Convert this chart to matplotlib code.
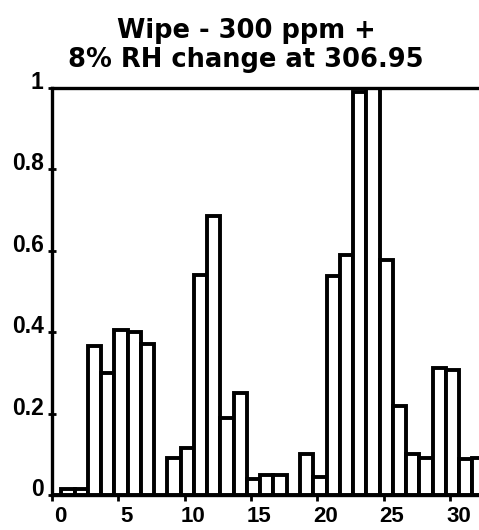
import numpy as np
import matplotlib
matplotlib.use("Agg")
import matplotlib.pyplot as plt
from matplotlib.transforms import ScaledTranslation

# Data
bar_index = list(range(0, 33))
values = [0.0, 0.015, 0.015, 0.365, 0.30, 0.405, 0.40, 0.372,
          0.0, 0.09, 0.116, 0.54, 0.685, 0.19, 0.25, 0.04, 0.05, 0.05,
          0.0, 0.10, 0.045, 0.537, 0.59, 0.99, 1.0, 0.578, 0.218, 0.10,
          0.09, 0.312, 0.308, 0.088, 0.09]
x_ticks = [0, 5, 10, 15, 20, 25, 30]
y_ticks = [0, 0.2, 0.4, 0.6, 0.8, 1.0]
y_ticklabels = ["0", "0.2", "0.4", "0.6", "0.8", "1"]
title = "Wipe - 300 ppm +\n8% RH change at 306.95"

plt.rcParams["font.family"] = ["Liberation Sans", "DejaVu Sans"]
plt.rcParams["font.weight"] = "bold"

fig = plt.figure(figsize=(4.79, 5.30), dpi=100)
ax = fig.add_axes([0.1086, 0.066, 0.8914, 0.768])

xpos = np.array(bar_index) + 0.2
ax.bar(xpos, values, width=1.0, color="white", edgecolor="black",
       linewidth=2.8, zorder=2)

ax.set_xlim(0, 32.2)
ax.set_ylim(0, 1.0)
ax.set_xticks(x_ticks)
ax.set_xticklabels([str(t) for t in x_ticks], fontsize=16, fontweight="bold")
ax.set_yticks(y_ticks)
ax.set_yticklabels(y_ticklabels, fontsize=16.5, fontweight="bold")

for s in ["left", "bottom", "top"]:
    ax.spines[s].set_linewidth(2.4)
    ax.spines[s].set_zorder(3)
ax.spines["right"].set_visible(False)

ax.tick_params(axis="x", direction="out", length=4, width=2, pad=4)
ax.tick_params(axis="y", direction="inout", length=6, width=2, pad=3)

off_x = ScaledTranslation(0.085, 0, fig.dpi_scale_trans)
for lab in ax.get_xticklabels():
    lab.set_transform(lab.get_transform() + off_x)
off_y = ScaledTranslation(0, 0.08, fig.dpi_scale_trans)
for lab in ax.get_yticklabels():
    lab.set_transform(lab.get_transform() + off_y)

fig.text(0.514, 1 - 73 / 530, title, ha="center", va="bottom",
         fontsize=18.5, fontweight="bold", family="DejaVu Sans",
         linespacing=1.15)

fig.savefig("out.png", dpi=100)
